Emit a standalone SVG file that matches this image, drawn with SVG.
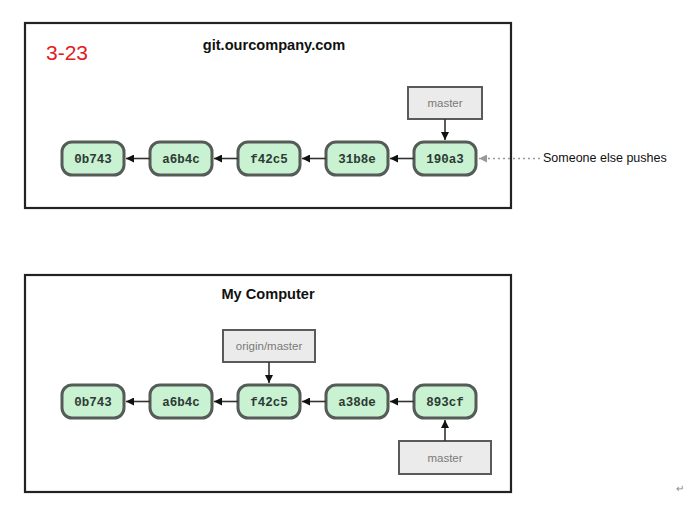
<svg xmlns="http://www.w3.org/2000/svg" width="688" height="525" viewBox="0 0 688 525">
<style>
.frame{fill:#fff;stroke:#222;stroke-width:2.2}
.commit rect{fill:#c8f2d2;stroke:#555b57;stroke-width:3}
.commit text{font-family:"Liberation Mono",monospace;font-weight:bold;font-size:12.5px;fill:#2e3a33;text-anchor:middle}
.branch rect{fill:#ebebeb;stroke:#5a5a5a;stroke-width:2}
.branch text{font-family:"Liberation Sans",Arial,sans-serif;font-size:11.5px;fill:#7a7a7a;text-anchor:middle}
.title{font-family:"Liberation Sans",Arial,sans-serif;font-weight:bold;font-size:14.6px;fill:#111;text-anchor:middle}
.conn{stroke:#333;stroke-width:1.6;fill:none}
.dash{stroke:#999;stroke-width:1.6;stroke-dasharray:2 3;fill:none}
</style>
<defs>
<marker id="ah" viewBox="0 0 10 10" refX="10" refY="5" markerWidth="8" markerHeight="8" markerUnits="userSpaceOnUse" orient="auto"><path d="M0,0L10,5L0,10z" fill="#111"/></marker>
<marker id="ahg" viewBox="0 0 10 10" refX="10" refY="5" markerWidth="8" markerHeight="8" markerUnits="userSpaceOnUse" orient="auto"><path d="M0,0L10,5L0,10z" fill="#999"/></marker>
</defs>
<rect width="688" height="525" fill="#fff"/>
<g id="server">
<rect class="frame" x="25" y="23" width="486" height="185"/>
<text class="title" x="274" y="50">git.ourcompany.com</text>
<text x="46" y="60" font-family="'Liberation Sans',Arial,sans-serif" font-size="21" fill="#e02020">3-23</text>
</g>
<g id="local">
<rect class="frame" x="25" y="275" width="486" height="217"/>
<text class="title" x="268" y="299">My Computer</text>
</g>
<g id="s-0b743" class="commit"><rect x="62" y="142" width="62" height="33" rx="10"/><text x="93" y="163">0b743</text></g>
<g id="s-a6b4c" class="commit"><rect x="150" y="142" width="62" height="33" rx="10"/><text x="181" y="163">a6b4c</text></g>
<g id="s-f42c5" class="commit"><rect x="238" y="142" width="62" height="33" rx="10"/><text x="269" y="163">f42c5</text></g>
<g id="s-31b8e" class="commit"><rect x="326" y="142" width="62" height="33" rx="10"/><text x="357" y="163">31b8e</text></g>
<g id="s-190a3" class="commit"><rect x="414" y="142" width="62" height="33" rx="10"/><text x="445" y="163">190a3</text></g>
<g id="s-master" class="branch"><rect x="408" y="87" width="74" height="32"/><text x="445" y="107">master</text></g>
<g id="pusher"><text x="543" y="162" font-family="'Liberation Sans',Arial,sans-serif" font-size="12.5" fill="#111">Someone else pushes</text></g>
<g id="l-0b743" class="commit"><rect x="62" y="385" width="62" height="33" rx="10"/><text x="93" y="406">0b743</text></g>
<g id="l-a6b4c" class="commit"><rect x="150" y="385" width="62" height="33" rx="10"/><text x="181" y="406">a6b4c</text></g>
<g id="l-f42c5" class="commit"><rect x="238" y="385" width="62" height="33" rx="10"/><text x="269" y="406">f42c5</text></g>
<g id="l-a38de" class="commit"><rect x="326" y="385" width="62" height="33" rx="10"/><text x="357" y="406">a38de</text></g>
<g id="l-893cf" class="commit"><rect x="414" y="385" width="62" height="33" rx="10"/><text x="445" y="406">893cf</text></g>
<g id="l-origin" class="branch"><rect x="223" y="330" width="92" height="32"/><text x="269" y="350">origin/master</text></g>
<g id="l-master" class="branch"><rect x="399" y="441" width="92" height="33"/><text x="445" y="462">master</text></g>
<g id="connectors">
<line class="conn" x1="150" y1="158.5" x2="126" y2="158.5" marker-end="url(#ah)"/>
<line class="conn" x1="238" y1="158.5" x2="214" y2="158.5" marker-end="url(#ah)"/>
<line class="conn" x1="326" y1="158.5" x2="302" y2="158.5" marker-end="url(#ah)"/>
<line class="conn" x1="414" y1="158.5" x2="390" y2="158.5" marker-end="url(#ah)"/>
<line class="conn" x1="445" y1="119" x2="445" y2="140" marker-end="url(#ah)"/>
<line class="dash" x1="540" y1="158.5" x2="479" y2="158.5" marker-end="url(#ahg)"/>
<line class="conn" x1="150" y1="401.5" x2="126" y2="401.5" marker-end="url(#ah)"/>
<line class="conn" x1="238" y1="401.5" x2="214" y2="401.5" marker-end="url(#ah)"/>
<line class="conn" x1="326" y1="401.5" x2="302" y2="401.5" marker-end="url(#ah)"/>
<line class="conn" x1="414" y1="401.5" x2="390" y2="401.5" marker-end="url(#ah)"/>
<line class="conn" x1="269" y1="362" x2="269" y2="383" marker-end="url(#ah)"/>
<line class="conn" x1="445" y1="441" x2="445" y2="420" marker-end="url(#ah)"/>
</g>
<text x="676" y="492" font-family="'Liberation Sans',sans-serif" font-size="10" fill="#888">↵</text>
</svg>
